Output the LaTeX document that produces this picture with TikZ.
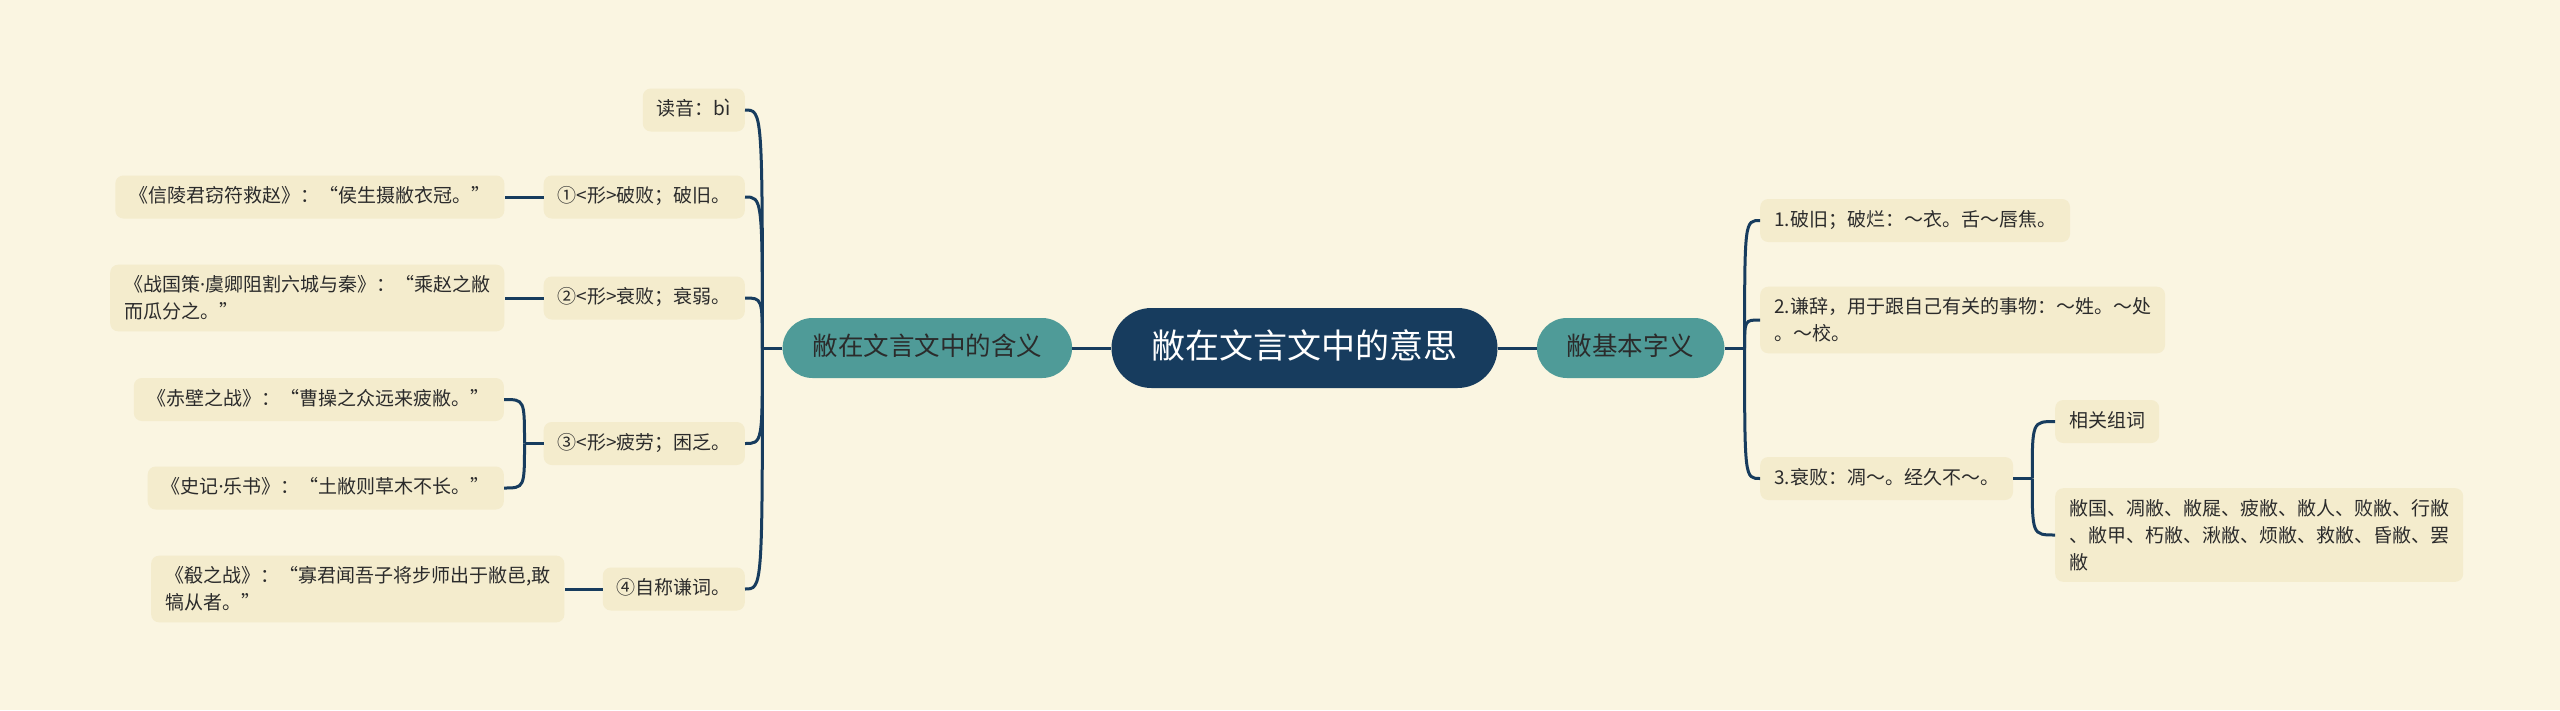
\documentclass[tikz,border=0pt]{standalone}
\usepackage{fontspec}
\setmainfont{Noto Sans CJK SC}
\newfontfamily\latinfont{Noto Sans}
\usepackage{xcolor}
\usepackage{tikz}
\usetikzlibrary{positioning}

\definecolor{paper}{HTML}{FAF5E1}
\definecolor{leaffill}{HTML}{F4ECCD}
\definecolor{navy}{HTML}{173C5E}
\definecolor{teal}{HTML}{4F9B98}
\definecolor{ink}{HTML}{2B2B2B}

\begin{document}
\begin{tikzpicture}[x=1pt,y=-1pt,
      root style/.style={rectangle,fill=navy,text=white,rounded corners=40pt,
        inner xsep=40pt,inner ysep=23pt,text height=27pt,text depth=7pt,
        font=\fontsize{34}{40}\selectfont},
      topic style/.style={rectangle,fill=teal,text=ink,rounded corners=30pt,
        inner xsep=30pt,inner ysep=17.5pt,text height=20pt,text depth=5pt,
        font=\fontsize{25.5}{30}\selectfont},
      leaf style/.style={rectangle,fill=leaffill,text=ink,rounded corners=8pt,
        inner xsep=14pt,inner ysep=12pt,text height=15pt,text depth=4pt,
        align=left,font=\fontsize{19}{27}\selectfont},
      wrap style/.style={leaf style,text height=,text depth=,inner ysep=11pt},
      link/.style={draw=navy,line width=3pt}
      ]
      \fill[paper] (0,0) rectangle (2560,710);
      \useasboundingbox (0,0) rectangle (2560,710);

      % centre and main topics
      \node[root style] (root) at (1304.5,348) {敝在文言文中的意思};
      \node[topic style, left=39pt of root] (usage) {敝在文言文中的含义};
      \node[topic style, right=39pt of root] (basic) {敝基本字义};

      \draw[link] (usage) -- (root) -- (basic);

      % left side
      \node[leaf style, anchor=east] (sound) at (745,110) {读音：bì};
      \node[leaf style, anchor=east] (mean1) at (745,197) {①<形>破败；破旧。};
      \node[leaf style, anchor=east] (mean2) at (745,298) {②<形>衰败；衰弱。};
      \node[leaf style, anchor=east] (mean3) at (745,443.5) {③<形>疲劳；困乏。};
      \node[leaf style, anchor=east] (mean4) at (745,589) {④自称谦词。};

      \node[leaf style, left=39pt of mean1] (quote1) {《信陵君窃符救赵》：“侯生摄敝衣冠。”};
      \node[wrap style, left=39pt of mean2] (quote2) {《战国策{\latinfont ·}虞卿阻割六城与秦》：“乘赵之敝\\而瓜分之。”};
      \node[leaf style, anchor=east] (quote3a) at (504,399.5) {《赤壁之战》：“曹操之众远来疲敝。”};
      \node[leaf style, anchor=east] (quote3b) at (504,488) {《史记{\latinfont ·}乐书》：“土敝则草木不长。”};
      \node[wrap style, left=38pt of mean4] (quote4) {《殽之战》：“寡君闻吾子将步师出于敝邑,敢\\犒从者。”};

      \coordinate[left=20pt of usage] (lfork);
      \draw[link] (usage.west) -- (lfork);
      \foreach \leaf in {sound,mean1,mean2,mean3,mean4}
        \draw[link] (lfork) .. controls (lfork |- \leaf.east) and (lfork |- \leaf.east) .. (\leaf.east);

      \draw[link] (mean1) -- (quote1);
      \draw[link] (mean2) -- (quote2);
      \draw[link] (mean4) -- (quote4);

      \coordinate[left=19pt of mean3] (tfork);
      \draw[link] (mean3.west) -- (tfork);
      \foreach \leaf in {quote3a,quote3b}
        \draw[link] (tfork) .. controls (tfork |- \leaf.east) and (tfork |- \leaf.east) .. (\leaf.east);

      % right side
      \node[leaf style, anchor=west] (sense1) at (1760,220.5) {1.破旧；破烂：～衣。舌～唇焦。};
      \node[wrap style, anchor=west] (sense2) at (1760,320) {2.谦辞，用于跟自己有关的事物：～姓。～处\\。～校。};
      \node[leaf style, anchor=west] (sense3) at (1760,478.5) {3.衰败：凋～。经久不～。};

      \node[leaf style, anchor=west] (wordhead) at (2055,421.5) {相关组词};
      \node[wrap style, anchor=west] (wordlist) at (2055,535) {敝国、凋敝、敝屣、疲敝、敝人、败敝、行敝\\、敝甲、朽敝、湫敝、烦敝、救敝、昏敝、罢\\敝};

      \coordinate[right=20pt of basic] (rfork);
      \draw[link] (basic.east) -- (rfork);
      \foreach \leaf in {sense1,sense2,sense3}
        \draw[link] (rfork) .. controls (rfork |- \leaf.west) and (rfork |- \leaf.west) .. (\leaf.west);

      \coordinate[right=19pt of sense3] (wfork);
      \draw[link] (sense3.east) -- (wfork);
      \foreach \leaf in {wordhead,wordlist}
        \draw[link] (wfork) .. controls (wfork |- \leaf.west) and (wfork |- \leaf.west) .. (\leaf.west);

    \end{tikzpicture}
\end{document}
